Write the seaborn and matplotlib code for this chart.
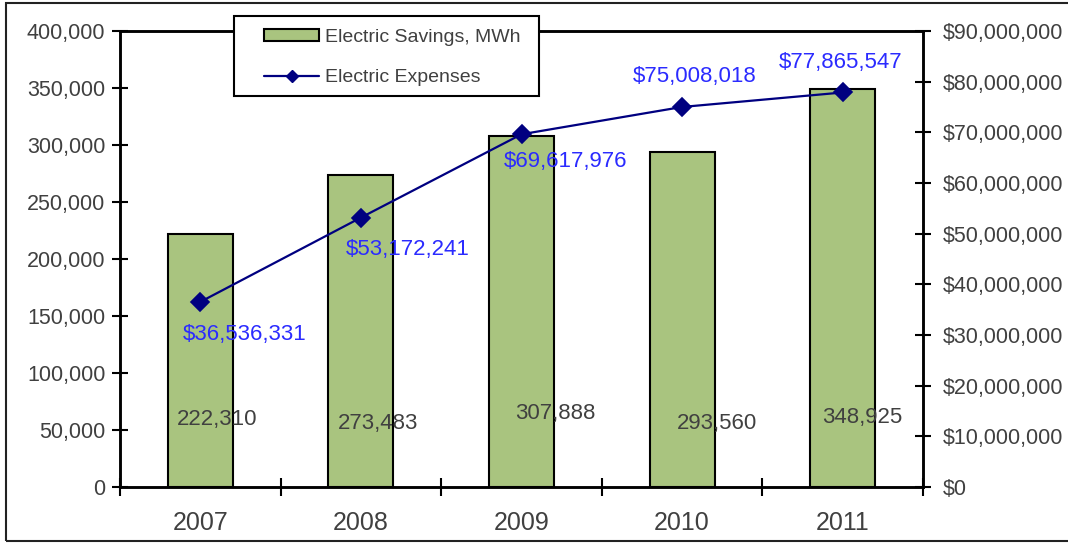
import matplotlib
matplotlib.use("Agg")
import matplotlib.pyplot as plt
import seaborn as sns
import pandas as pd
import numpy as np
from matplotlib.patches import Patch, Rectangle
from matplotlib.lines import Line2D
from matplotlib.ticker import FuncFormatter, MultipleLocator

# ---- data ----
years = ["2007", "2008", "2009", "2010", "2011"]
savings_mwh = [222310, 273483, 307888, 293560, 348925]
expenses_usd = [36536331, 53172241, 69617976, 75008018, 77865547]
savings_labels = ["222,310", "273,483", "307,888", "293,560", "348,925"]
expense_labels = ["$36,536,331", "$53,172,241", "$69,617,976", "$75,008,018", "$77,865,547"]
legend_labels = ["Electric Savings, MWh", "Electric Expenses"]

# ---- label placement (pixel offsets, style only) ----
sav_off = [(17, 68), (17, 63), (34, 74), (35, 64), (20, 69)]
exp_off = [(44, -33), (47, -32), (44, -27), (13, 30), (-2, 30)]

sns.set_style("white")
plt.rcParams["font.family"] = ["Liberation Sans", "DejaVu Sans"]

TXT = "#404040"
BAR = "#a9c47f"
NAVY = "#000080"
BLUE = "#2b2bff"
W, H = 1068, 543

df = pd.DataFrame({"year": years, "savings": savings_mwh, "expenses": expenses_usd})

fig = plt.figure(figsize=(W / 100, H / 100), dpi=100)
ax = fig.add_axes([120 / W, 1 - 487 / H, (923 - 120) / W, (487 - 31) / H])

sns.barplot(data=df, x="year", y="savings", color=BAR, edgecolor="black",
            linewidth=1.5, width=0.405, saturation=1, ax=ax, zorder=2)
ax.set_ylim(0, 400000)
ax.set_xlim(-0.5, 4.5)
ax.yaxis.set_major_locator(MultipleLocator(50000))
ax.yaxis.set_major_formatter(FuncFormatter(lambda v, p: f"{int(v):,}"))
ax.set_xlabel("")
ax.set_ylabel("")

ax2 = ax.twinx()
sns.pointplot(data=df, x="year", y="expenses", color=NAVY, markers="D",
              markersize=9, linewidth=1.6, ax=ax2, zorder=3)
ax2.set_ylim(0, 90000000)
ax2.set_xlim(-0.5, 4.5)
ax2.yaxis.set_major_locator(MultipleLocator(10000000))
ax2.yaxis.set_major_formatter(FuncFormatter(lambda v, p: f"${int(v):,}"))
ax2.set_ylabel("")
ax2.set_xlabel("")

# spines & ticks
for a in (ax, ax2):
    for s in a.spines.values():
        s.set_color("black")
        s.set_linewidth(1.8)
        s.set_visible(True)

ax.tick_params(axis="y", which="major", direction="inout", length=11, width=1.5,
               color="black", labelsize=15.5, labelcolor=TXT, pad=5, left=True)
ax2.tick_params(axis="y", which="major", direction="inout", length=11, width=1.5,
                color="black", labelsize=15.5, labelcolor=TXT, pad=9, right=True)
ax.set_xticks(range(len(years)))
ax.set_xticklabels(years)
ax.set_xticks(np.arange(-0.5, len(years), 1.0), minor=True)
ax.tick_params(axis="x", which="major", length=0, labelsize=18, labelcolor=TXT, pad=17)
ax.tick_params(axis="x", which="minor", direction="inout", length=13, width=1.5,
               color="black", bottom=True)
ax2.tick_params(axis="x", which="both", length=0, labelbottom=False)

# annotations
for i, (lab, off) in enumerate(zip(savings_labels, sav_off)):
    ax.annotate(lab, xy=(i, 0), xytext=off, textcoords="offset pixels",
                ha="center", va="center", fontsize=16, color=TXT, zorder=5)
for i, (lab, off) in enumerate(zip(expense_labels, exp_off)):
    ax2.annotate(lab, xy=(i, expenses_usd[i]), xytext=off, textcoords="offset pixels",
                 ha="center", va="center", fontsize=16, color=BLUE, zorder=5)

# legend box (drawn as frame) + legend entries
fig.patches.append(Rectangle((234 / W, 1 - 96 / H), (539 - 234) / W, 80 / H,
                             transform=fig.transFigure, facecolor="white",
                             edgecolor="black", linewidth=1.5, zorder=8))
handles = [Patch(facecolor=BAR, edgecolor="black", linewidth=1.5),
           Line2D([], [], color=NAVY, marker="D", markersize=6, linewidth=1.6)]
leg = fig.legend(handles, legend_labels, loc="upper left",
                 bbox_to_anchor=(264 / W, 1 - 28.5 / H), bbox_transform=fig.transFigure,
                 fontsize=14, frameon=False, handlelength=2.83, handleheight=0.62,
                 handletextpad=0.3, labelspacing=1.2, borderpad=0, borderaxespad=0)
for t in leg.get_texts():
    t.set_color(TXT)
leg.set_zorder(10)

# outer border
fig.patches.append(Rectangle((6 / W, 2 / H), 1.2, 1 - 5 / H,
                             transform=fig.transFigure, fill=False,
                             edgecolor="#222222", linewidth=1.5, zorder=0))

fig.savefig("out.png", dpi=100)
